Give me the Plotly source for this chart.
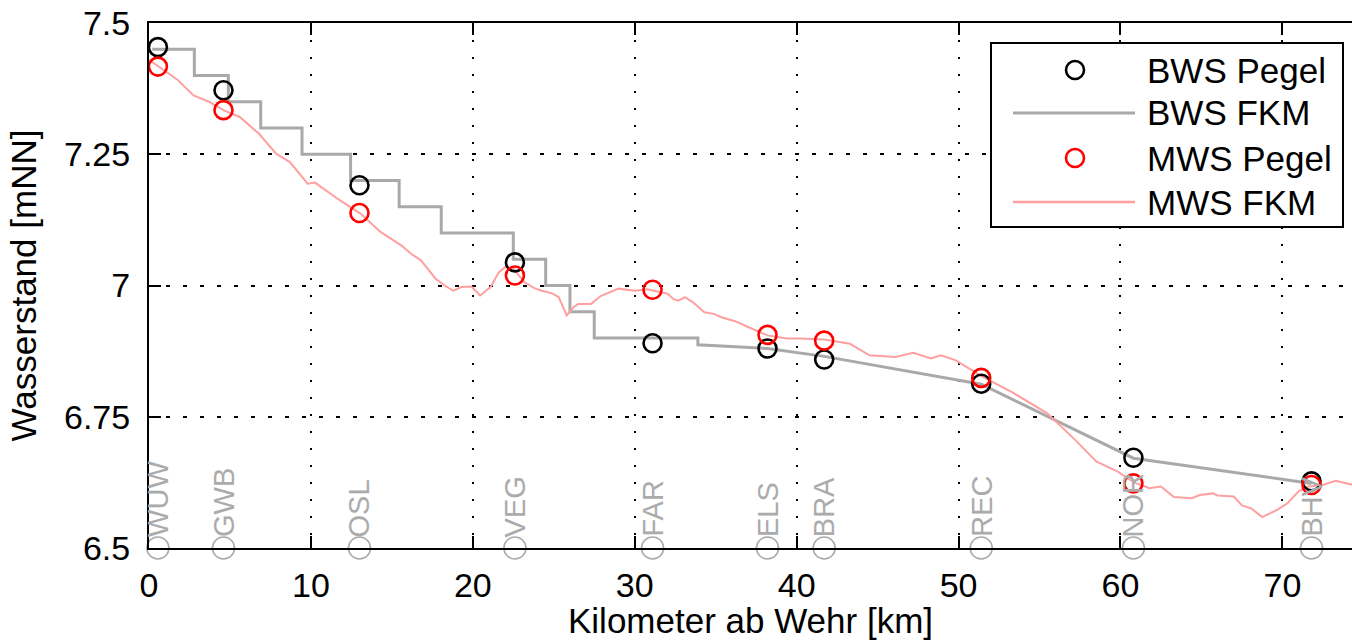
import plotly.graph_objects as go

# Gauge stations along the river (km downstream of the weir)
stations = ["WUW", "GWB", "OSL", "VEG", "FAR", "ELS", "BRA", "REC", "NOR", "BHV"]
station_km = [0.55, 4.6, 13.0, 22.6, 31.1, 38.2, 41.7, 51.4, 60.8, 71.8]

# Gauge readings
bws_pegel = [7.454, 7.372, 7.191, 7.044, 6.890, 6.880, 6.859, 6.813, 6.672, 6.627]
mws_pegel = [7.417, 7.334, 7.138, 7.019, 6.992, 6.906, 6.895, 6.824, 6.623, 6.620]

# BWS FKM profile (stepped upstream, linear downstream)
bws_fkm_km = [0.2, 2.8, 2.8, 4.9, 4.9, 6.9, 6.9, 9.45, 9.45, 12.45, 12.45, 15.45,
              15.45, 18.05, 18.05, 22.5, 22.5, 24.5, 24.5, 26.0, 26.0, 27.5, 27.5,
              33.9, 33.9, 38.2, 41.7, 51.4, 60.8, 71.8]
bws_fkm_ws = [7.45, 7.45, 7.40, 7.40, 7.35, 7.35, 7.30, 7.30, 7.25, 7.25, 7.20, 7.20,
              7.15, 7.15, 7.10, 7.10, 7.05, 7.05, 7.00, 7.00, 6.95, 6.95, 6.90,
              6.90, 6.887, 6.880, 6.865, 6.812, 6.671, 6.623]

# MWS FKM profile
mws_fkm_km = [0.0, 0.55, 1.8, 2.75, 3.7, 4.6, 5.6, 6.8, 7.85, 8.7, 9.8, 10.25, 11.0,
              11.8, 13.06, 14.3, 15.6, 16.2, 16.8, 17.7, 18.3, 18.8, 19.3, 19.9,
              20.45, 21.1, 21.6, 22.0, 22.5, 23.2, 23.8, 24.25, 24.9, 25.3, 25.8,
              26.2, 26.5, 27.3, 27.9, 28.4, 29.0, 30.0, 30.8, 31.2, 32.05, 32.4,
              32.7, 33.1, 33.6, 34.3, 34.9, 35.3, 36.2, 37.0, 38.2, 39.4, 40.2,
              41.7, 42.6, 43.3, 44.5, 46.1, 47.2, 48.3, 48.9, 49.8, 51.5, 53.3,
              55.5, 57.2, 58.5, 59.8, 60.9, 61.8, 62.5, 63.3, 64.4, 64.9, 65.7,
              66.0, 67.0, 67.5, 68.1, 68.75, 69.7, 70.3, 71.0, 71.6, 72.5, 73.3,
              74.4]
mws_fkm_ws = [7.430, 7.418, 7.391, 7.362, 7.350, 7.334, 7.321, 7.289, 7.251, 7.235,
              7.194, 7.196, 7.180, 7.162, 7.137, 7.102, 7.076, 7.060, 7.048, 7.013,
              6.999, 6.990, 6.997, 6.998, 6.981, 6.997, 7.025, 7.035, 7.032, 7.006,
              6.995, 6.990, 6.985, 6.978, 6.943, 6.958, 6.965, 6.965, 6.980, 6.987,
              6.994, 6.990, 6.993, 6.990, 6.984, 6.974, 6.971, 6.978, 6.968, 6.949,
              6.946, 6.940, 6.932, 6.921, 6.905, 6.899, 6.899, 6.897, 6.892, 6.889,
              6.867, 6.864, 6.872, 6.861, 6.867, 6.858, 6.826, 6.797, 6.756, 6.706,
              6.665, 6.646, 6.624, 6.614, 6.617, 6.597, 6.595, 6.601, 6.604, 6.600,
              6.598, 6.581, 6.575, 6.559, 6.573, 6.585, 6.608, 6.617, 6.620, 6.628,
              6.620]

x_ticks = [0, 10, 20, 30, 40, 50, 60, 70]
y_ticks = [6.5, 6.75, 7.0, 7.25, 7.5]
y_tick_text = ["6.5", "6.75", "7", "7.25", "7.5"]

legend_labels = ["BWS Pegel", "BWS FKM", "MWS Pegel", "MWS FKM"]

W, H = 1352, 640
M_L, M_R, M_T, M_B = 149, 0, 23, 92
FONT = "Liberation Sans, Arial, sans-serif"

BLACK = "#000000"
GRAY_LINE = "#a9a9a9"
RED = "#ff0000"
PINK_LINE = "#ffa0a0"
STATION_GRAY = "#ababab"

fig = go.Figure()

# station markers on the bottom axis
fig.add_trace(go.Scatter(
    x=station_km, y=[6.5] * len(station_km), mode="markers",
    marker=dict(symbol="circle-open", size=22, color=STATION_GRAY,
                line=dict(width=1.6, color=STATION_GRAY)),
    cliponaxis=False, showlegend=False, hoverinfo="skip"))

fig.add_trace(go.Scatter(
    x=bws_fkm_km, y=bws_fkm_ws, mode="lines", name="BWS FKM",
    line=dict(color=GRAY_LINE, width=3), showlegend=False))
fig.add_trace(go.Scatter(
    x=mws_fkm_km, y=mws_fkm_ws, mode="lines", name="MWS FKM",
    line=dict(color=PINK_LINE, width=2), showlegend=False))
fig.add_trace(go.Scatter(
    x=station_km, y=bws_pegel, mode="markers", name="BWS Pegel",
    marker=dict(symbol="circle-open", size=18, color=BLACK,
                line=dict(width=2.6, color=BLACK)),
    showlegend=False, cliponaxis=False))
fig.add_trace(go.Scatter(
    x=station_km, y=mws_pegel, mode="markers", name="MWS Pegel",
    marker=dict(symbol="circle-open", size=18, color=RED,
                line=dict(width=2.6, color=RED)),
    showlegend=False, cliponaxis=False))

# station names, rotated
annotations = []
for name, km in zip(stations, station_km):
    annotations.append(dict(
        x=km, y=6.5, xref="x", yref="y", text=name, showarrow=False,
        textangle=-90, xanchor="center", yanchor="bottom", yshift=9,
        font=dict(family=FONT, size=29, color=STATION_GRAY)))

# legend drawn in pixel space of the plot area
plot_w = W - M_L - M_R
plot_h = H - M_T - M_B


def px_x(px):
    return (px - M_L) / plot_w


def px_y(py):
    return (H - M_B - py) / plot_h


shapes = [dict(type="rect", xref="paper", yref="paper",
               x0=px_x(991), x1=px_x(1343), y0=px_y(227), y1=px_y(43),
               line=dict(color=BLACK, width=2), fillcolor="white", layer="above")]
row_y = [70, 113, 158, 202]
legend_style = [("marker", BLACK), ("line", GRAY_LINE), ("marker", RED), ("line", PINK_LINE)]
for (kind, col), ry, label in zip(legend_style, row_y, legend_labels):
    if kind == "line":
        shapes.append(dict(type="line", xref="paper", yref="paper",
                           x0=px_x(1013), x1=px_x(1135), y0=px_y(ry), y1=px_y(ry),
                           line=dict(color=col, width=3 if col == GRAY_LINE else 2.5),
                           layer="above"))
    else:
        shapes.append(dict(type="circle", xref="paper", yref="paper",
                           xsizemode="pixel", ysizemode="pixel",
                           xanchor=px_x(1075), yanchor=px_y(ry),
                           x0=-9, x1=9, y0=-9, y1=9,
                           line=dict(color=col, width=2.6), layer="above"))
    annotations.append(dict(
        x=px_x(1145), y=px_y(ry), xref="paper", yref="paper", text=label,
        showarrow=False, xanchor="left", yanchor="middle",
        font=dict(family=FONT, size=35, color=BLACK)))

fig.update_layout(
    width=W, height=H,
    margin=dict(l=M_L, r=M_R, t=M_T, b=M_B, pad=0),
    paper_bgcolor="white", plot_bgcolor="white",
    font=dict(family=FONT, size=34, color=BLACK),
    showlegend=False,
    shapes=shapes,
    annotations=annotations,
)

fig.update_xaxes(
    range=[0, 74.3], tickvals=x_ticks, ticks="inside", ticklen=12, tickwidth=2,
    tickcolor=BLACK, showline=True, linewidth=2, linecolor=BLACK, mirror="ticks",
    showgrid=True, gridcolor=BLACK, gridwidth=2, griddash="2px,15px",
    zeroline=False, tickfont=dict(size=34), ticklabelstandoff=6,
    title=dict(text="Kilometer ab Wehr [km]", font=dict(size=35), standoff=6),
)
fig.update_yaxes(
    range=[6.5, 7.5], tickvals=y_ticks, ticktext=y_tick_text, ticks="inside",
    ticklen=12, tickwidth=2, tickcolor=BLACK, showline=True, linewidth=2,
    linecolor=BLACK, mirror=False,
    showgrid=True, gridcolor=BLACK, gridwidth=2, griddash="4px,13px",
    zeroline=False, tickfont=dict(size=34), ticklabelstandoff=10,
    title=dict(text="Wasserstand [mNN]", font=dict(size=35), standoff=17),
)

fig.write_html("out.html")
